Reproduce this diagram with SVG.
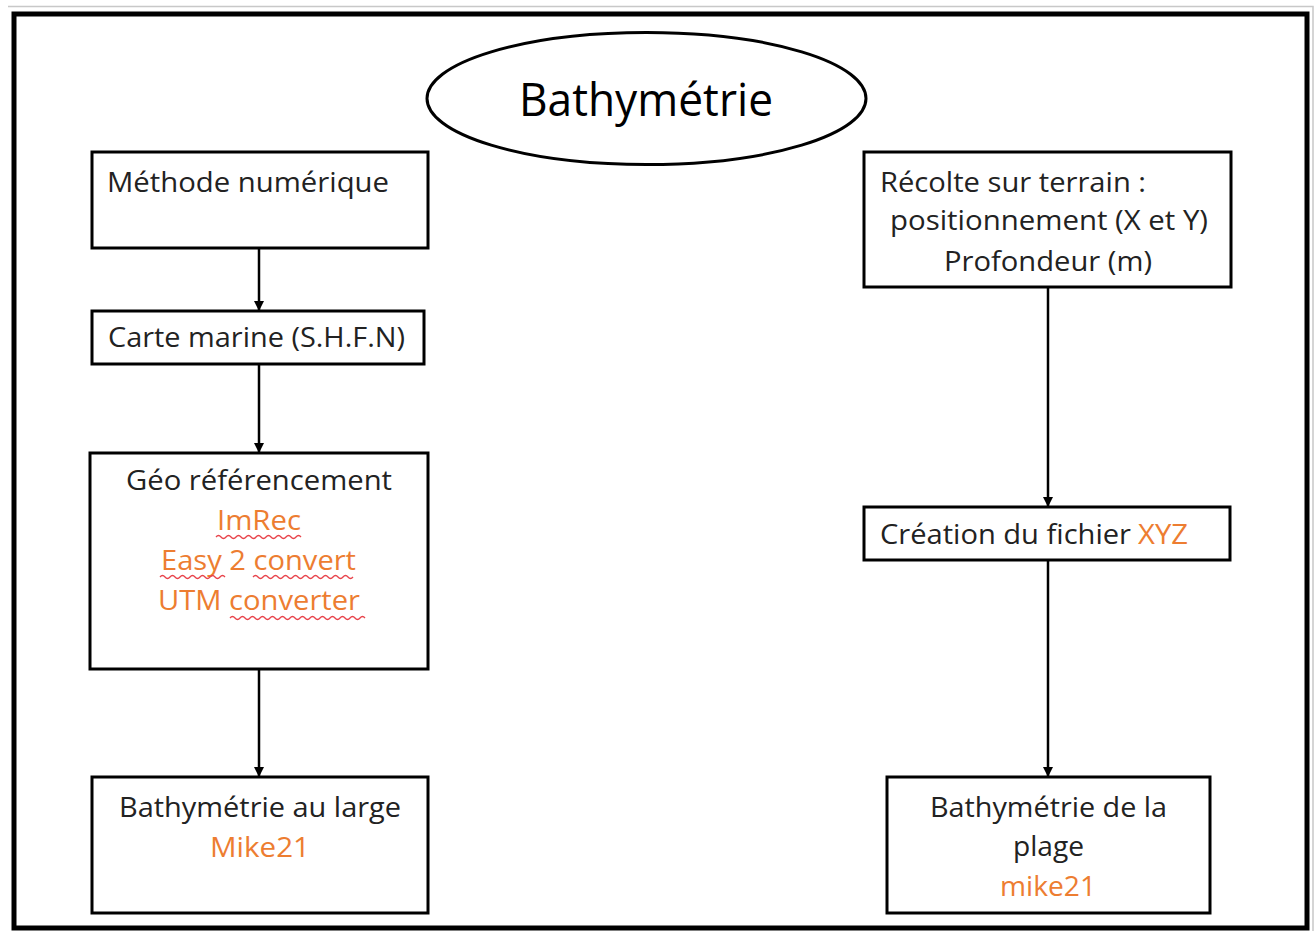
<svg xmlns="http://www.w3.org/2000/svg" width="1315" height="931" viewBox="0 0 1315 931">
<defs>
<style>
.box{fill:#fff;stroke:#000;stroke-width:3}
.t{font-family:"Open Sans","Noto Sans","Liberation Sans",sans-serif;font-size:28px;fill:#222}
.ti{font-size:45px;fill:#000}
.o{fill:#ED7D31}
.sq{fill:none;stroke:#E8434B;stroke-width:1.3}
.con{stroke:#000;stroke-width:2.5;fill:none}
</style>
<marker id="ah" viewBox="0 0 10 10" refX="9" refY="5" markerWidth="4" markerHeight="4" orient="auto" markerUnits="strokeWidth">
<path d="M0,0 L10,5 L0,10 Z" fill="#000"/>
</marker>
</defs>
<rect width="1315" height="931" fill="#fff"/>
<path d="M8,6.5 H1313 V931" fill="none" stroke="#c8c8c8" stroke-width="1.5"/>
<rect id="frame" x="14" y="14" width="1293" height="914" fill="none" stroke="#000" stroke-width="5"/>

<g id="connectors">
<line class="con" x1="259" y1="249" x2="259" y2="310" marker-end="url(#ah)"/>
<line class="con" x1="259" y1="365" x2="259" y2="452" marker-end="url(#ah)"/>
<line class="con" x1="259" y1="670" x2="259" y2="776" marker-end="url(#ah)"/>
<line class="con" x1="1048" y1="288" x2="1048" y2="506" marker-end="url(#ah)"/>
<line class="con" x1="1048" y1="561" x2="1048" y2="776" marker-end="url(#ah)"/>
</g>

<g id="title">
<ellipse cx="646.5" cy="98.5" rx="219.5" ry="66" fill="#fff" stroke="#000" stroke-width="3"/>
<text class="t ti" x="519" y="116" textLength="254" lengthAdjust="spacingAndGlyphs">Bathymétrie</text>
</g>

<g id="methode">
<rect class="box" x="92" y="152" width="336" height="96"/>
<text class="t" x="107" y="192" textLength="282" lengthAdjust="spacingAndGlyphs">Méthode numérique</text>
</g>

<g id="carte">
<rect class="box" x="92" y="311" width="332" height="53"/>
<text class="t" x="108" y="347" textLength="297" lengthAdjust="spacingAndGlyphs">Carte marine (S.H.F.N)</text>
</g>

<g id="georef">
<rect class="box" x="90" y="453" width="338" height="216"/>
<text class="t" x="126" y="490" textLength="266" lengthAdjust="spacingAndGlyphs">Géo référencement</text>
<text class="t o" x="217" y="530" textLength="84" lengthAdjust="spacingAndGlyphs">ImRec</text>
<text class="t o" x="161" y="570" textLength="195" lengthAdjust="spacingAndGlyphs">Easy 2 convert</text>
<text class="t o" x="158" y="610" textLength="202" lengthAdjust="spacingAndGlyphs">UTM converter</text>
<path class="sq" d="M216,537 q2.5,-3 5,0 t5,0 t5,0 t5,0 t5,0 t5,0 t5,0 t5,0 t5,0 t5,0 t5,0 t5,0 t5,0 t5,0 t5,0 t5,0 t5,0"/>
<path class="sq" d="M160,577 q2.5,-3 5,0 t5,0 t5,0 t5,0 t5,0 t5,0 t5,0 t5,0 t5,0 t5,0 t5,0 t5,0 t5,0"/>
<path class="sq" d="M253,577 q2.5,-3 5,0 t5,0 t5,0 t5,0 t5,0 t5,0 t5,0 t5,0 t5,0 t5,0 t5,0 t5,0 t5,0 t5,0 t5,0 t5,0 t5,0 t5,0 t5,0 t5,0"/>
<path class="sq" d="M230,618 q2.5,-3 5,0 t5,0 t5,0 t5,0 t5,0 t5,0 t5,0 t5,0 t5,0 t5,0 t5,0 t5,0 t5,0 t5,0 t5,0 t5,0 t5,0 t5,0 t5,0 t5,0 t5,0 t5,0 t5,0 t5,0 t5,0 t5,0 t5,0"/>
</g>

<g id="large">
<rect class="box" x="92" y="777" width="336" height="136"/>
<text class="t" x="119" y="817" textLength="282" lengthAdjust="spacingAndGlyphs">Bathymétrie au large</text>
<text class="t o" x="210" y="857" textLength="100" lengthAdjust="spacingAndGlyphs">Mike21</text>
</g>

<g id="recolte">
<rect class="box" x="864" y="152" width="367" height="135"/>
<text class="t" x="880" y="192" textLength="266" lengthAdjust="spacingAndGlyphs">Récolte sur terrain :</text>
<text class="t" x="890" y="230" textLength="318" lengthAdjust="spacingAndGlyphs">positionnement (X et Y)</text>
<text class="t" x="944" y="271" textLength="208" lengthAdjust="spacingAndGlyphs">Profondeur (m)</text>
</g>

<g id="xyz">
<rect class="box" x="864" y="507" width="366" height="53"/>
<text class="t" x="880" y="544"><tspan textLength="251" lengthAdjust="spacingAndGlyphs">Création du fichier</tspan><tspan class="o" x="1138" textLength="50" lengthAdjust="spacingAndGlyphs">XYZ</tspan></text>
</g>

<g id="plage">
<rect class="box" x="887" y="777" width="323" height="136"/>
<text class="t" x="930" y="817" textLength="237" lengthAdjust="spacingAndGlyphs">Bathymétrie de la</text>
<text class="t" x="1013" y="856" textLength="71" lengthAdjust="spacingAndGlyphs">plage</text>
<text class="t o" x="1000" y="896" textLength="96" lengthAdjust="spacingAndGlyphs">mike21</text>
</g>
</svg>
